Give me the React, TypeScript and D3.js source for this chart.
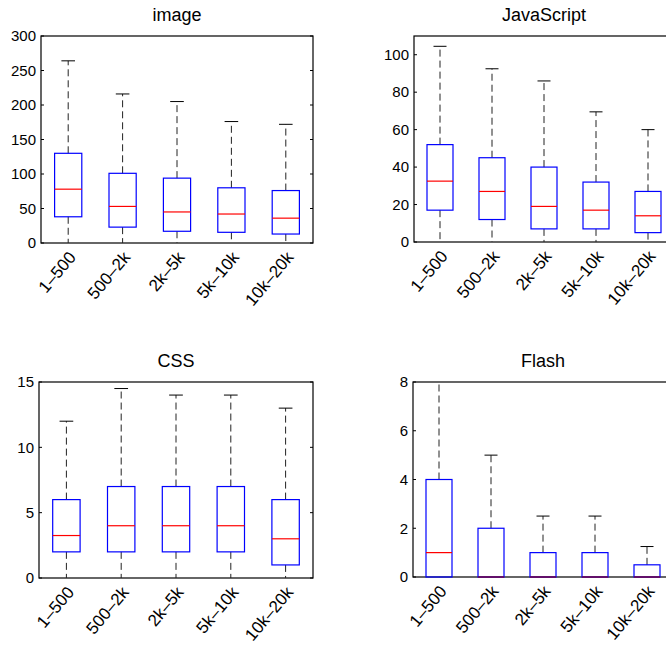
import React from "react";
import * as d3 from "d3";

const categories = ["1–500", "500–2k", "2k–5k", "5k–10k", "10k–20k"];

// [lower whisker, Q1, median, Q3, upper whisker]
const imageStats = [
  [0, 38, 78, 130, 264],
  [0, 23, 53, 101, 216],
  [0, 17, 45, 94, 205],
  [0, 15.5, 42, 80, 176],
  [0, 13, 36, 76, 172],
];
const jsStats = [
  [0, 17, 32.5, 52, 104.5],
  [0, 12, 27, 45, 92.5],
  [0, 7, 19, 40, 86],
  [0, 7, 17, 32, 69.5],
  [0, 5, 14, 27, 60],
];
const cssStats = [
  [0, 2, 3.25, 6, 12],
  [0, 2, 4, 7, 14.5],
  [0, 2, 4, 7, 14],
  [0, 2, 4, 7, 14],
  [0, 1, 3, 6, 13],
];
const flashStats = [
  [0, 0, 1, 4, 10],
  [0, 0, 0, 2, 5],
  [0, 0, 0, 1, 2.5],
  [0, 0, 0, 1, 2.5],
  [0, 0, 0, 0.5, 1.25],
];

const titles = ["image", "JavaScript", "CSS", "Flash"];
const yMaxes = [300, 110, 15, 8];
const yTicks = [
  [0, 50, 100, 150, 200, 250, 300],
  [0, 20, 40, 60, 80, 100],
  [0, 5, 10, 15],
  [0, 2, 4, 6, 8],
];
const allStats = [imageStats, jsStats, cssStats, flashStats];

const layouts = [
  { left: 41, right: 313, top: 36, bottom: 243 },
  { left: 414, right: 674, top: 36, bottom: 242 },
  { left: 39, right: 313, top: 382, bottom: 578 },
  { left: 413, right: 673, top: 382, bottom: 577 },
];

const FONT = "'Liberation Sans', Arial, Helvetica, sans-serif";

function Panel({ idx }: { idx: number }) {
  const L = layouts[idx];
  const stats = allStats[idx];
  const x = d3.scaleLinear().domain([0.5, categories.length + 0.5]).range([L.left, L.right]);
  const y = d3.scaleLinear().domain([0, yMaxes[idx]]).range([L.bottom, L.top]);
  const unit = x(1) - x(0);
  const bw = unit * 0.25;
  const cw = unit * 0.125;
  const clipId = `clip${idx}`;
  return (
    <g>
      <defs>
        <clipPath id={clipId}>
          <rect x={L.left - 1} y={L.top} width={L.right - L.left + 2} height={L.bottom - L.top + 1} />
        </clipPath>
      </defs>
      <text x={(L.left + L.right) / 2} y={L.top - 15} textAnchor="middle" fontSize={18} fontFamily={FONT} fill="#000">
        {titles[idx]}
      </text>
      <rect x={L.left} y={L.top} width={L.right - L.left} height={L.bottom - L.top} fill="none" stroke="#000" strokeWidth={1.2} />
      <g clipPath={`url(#${clipId})`}>
        {stats.map((s, i) => {
          const cx = x(i + 1);
          return (
            <g key={i}>
              <line x1={cx} x2={cx} y1={y(s[3])} y2={y(s[4])} stroke="#222" strokeWidth={1} strokeDasharray="7,4" />
              <line x1={cx} x2={cx} y1={y(s[1])} y2={y(s[0])} stroke="#222" strokeWidth={1} strokeDasharray="7,4" />
              <line x1={cx - cw} x2={cx + cw} y1={y(s[4])} y2={y(s[4])} stroke="#000" strokeWidth={1} />
              <rect x={cx - bw} y={y(s[3])} width={2 * bw} height={y(s[1]) - y(s[3])} fill="none" stroke="#0000ff" strokeWidth={1.2} />
              <line x1={cx - bw} x2={cx + bw} y1={y(s[2])} y2={y(s[2])} stroke={s[2] === 0 ? "#8a0030" : "#ff0000"} strokeWidth={1.2} />
            </g>
          );
        })}
      </g>
      {yTicks[idx].map((t) => (
        <g key={t}>
          <line x1={L.left} x2={L.left + 3} y1={y(t)} y2={y(t)} stroke="#000" />
          <line x1={L.right} x2={L.right - 3} y1={y(t)} y2={y(t)} stroke="#000" />
          <text x={L.left - 5} y={y(t)} dy="0.35em" textAnchor="end" fontSize={15} fontFamily={FONT} fill="#000">
            {t}
          </text>
        </g>
      ))}
      {categories.map((c, i) => (
        <text
          key={c}
          transform={`translate(${x(i + 1) + 4},${L.bottom + 11}) rotate(-50)`}
          textAnchor="end"
          dy="0.35em"
          fontSize={17}
          fontFamily={FONT}
          fill="#000"
        >
          {c}
        </text>
      ))}
    </g>
  );
}

export default function App() {
  return (
    <svg width={666} height={647} style={{ position: "absolute", left: 0, top: 0, background: "#fff" }}>
      <rect x={0} y={0} width={666} height={647} fill="#fff" />
      {[0, 1, 2, 3].map((i) => (
        <Panel key={i} idx={i} />
      ))}
    </svg>
  );
}
